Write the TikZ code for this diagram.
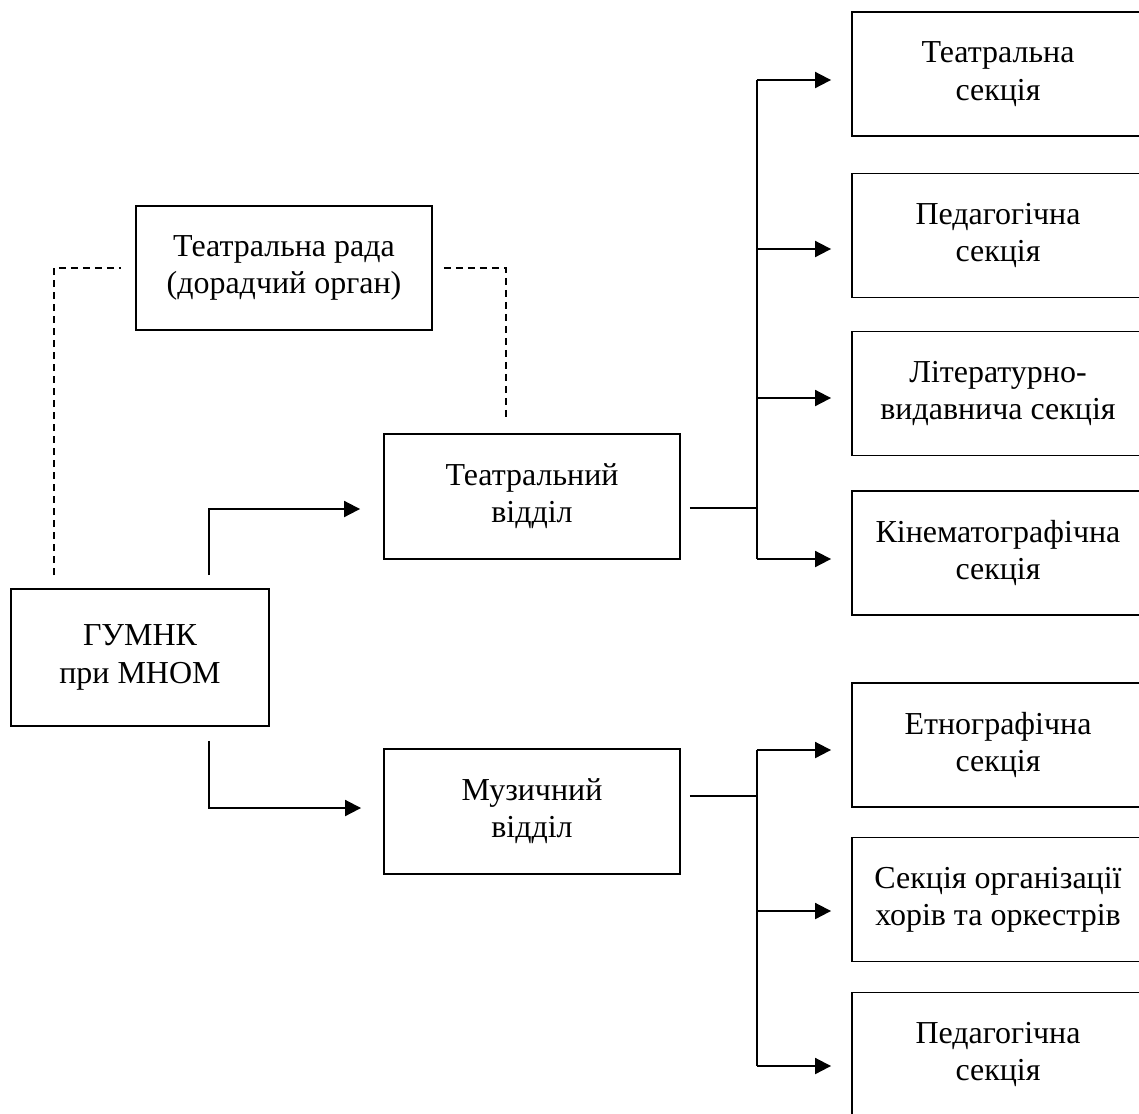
\documentclass[tikz,border=0pt]{standalone}
\usepackage{fontspec}
\setmainfont{Liberation Serif}
\usetikzlibrary{arrows.meta, positioning}
\tikzset{
    box/.style = {draw, rectangle, align=center, line width=1.1pt, inner sep=0pt,
                  font=\fontsize{18.2}{21.2}\selectfont},
    dept/.style = {box, minimum width=5.92cm, minimum height=2.5cm},
    sect/.style = {box, minimum width=5.84cm, minimum height=2.48cm},
    link/.style = {line width=1.1pt},
    arr/.style = {link, -{Triangle[length=3.2mm,width=3.2mm]}},
    advice/.style = {link, dash pattern=on 0.14cm off 0.1cm}
}
\begin{document}
\begin{tikzpicture}[x=0.02cm, y=-0.02cm]
  \useasboundingbox (0,0) rectangle (1139,1113);
  \clip (0,0) rectangle (1139,1113);

  \node[box, minimum width=5.16cm, minimum height=2.74cm] (gumnk) at (140,657.5) {ГУМНК\\при МНОМ};
  \node[box, minimum width=5.92cm, minimum height=2.48cm] (rada) at (284,268) {Театральна рада\\(дорадчий орган)};
  \node[dept] (tv) at (532,496.5) {Театральний\\відділ};
  \node[dept] (mv) at (532,811.5) {Музичний\\відділ};

  \node[sect] (s1) at (998,74)     {Театральна\\секція};
  \node[sect] (s2) at (998,235.5)  {Педагогічна\\секція};
  \node[sect] (s3) at (998,393.5)  {Літературно-\\видавнича секція};
  \node[sect] (s4) at (998,553)    {Кінематографічна\\секція};
  \node[sect] (s5) at (998,745)    {Етнографічна\\секція};
  \node[sect] (s6) at (998,899.5)  {Секція організації\\хорів та оркестрів};
  \node[sect] (s7) at (998,1054.5) {Педагогічна\\секція};

  % advisory council
  \draw[advice] ([xshift=0.88cm,yshift=0.26cm]gumnk.north west) |- ([xshift=-0.28cm]rada.west);
  \draw[advice] ([xshift=0.22cm]rada.east) -| ([xshift=-0.52cm,yshift=0.28cm]tv.north);

  % departments
  \draw[arr] ([xshift=1.38cm,yshift=0.26cm]gumnk.north) |- ([xshift=-0.46cm,yshift=-0.25cm]tv.west);
  \draw[arr] ([xshift=1.38cm,yshift=-0.28cm]gumnk.south) |- ([xshift=-0.44cm,yshift=0.07cm]mv.west);

  % theatre sections
  \coordinate (bt) at ([xshift=1.52cm,yshift=-0.23cm]tv.east);
  \coordinate (e1) at ([xshift=-0.4cm,yshift=-0.12cm]s1.west);
  \coordinate (e2) at ([xshift=-0.4cm,yshift=-0.27cm]s2.west);
  \coordinate (e3) at ([xshift=-0.4cm,yshift=-0.09cm]s3.west);
  \coordinate (e4) at ([xshift=-0.4cm,yshift=-0.12cm]s4.west);
  \draw[link] ([xshift=0.18cm,yshift=-0.23cm]tv.east) -- (bt);
  \draw[link] (bt |- e1) -- (bt |- e4);
  \draw[arr] (bt |- e1) -- (e1);
  \draw[arr] (bt |- e2) -- (e2);
  \draw[arr] (bt |- e3) -- (e3);
  \draw[arr] (bt |- e4) -- (e4);

  % music sections
  \coordinate (bm) at ([xshift=1.52cm,yshift=0.31cm]mv.east);
  \coordinate (e5) at ([xshift=-0.4cm,yshift=-0.1cm]s5.west);
  \coordinate (e6) at ([xshift=-0.4cm,yshift=-0.23cm]s6.west);
  \coordinate (e7) at ([xshift=-0.4cm,yshift=-0.23cm]s7.west);
  \draw[link] ([xshift=0.18cm,yshift=0.31cm]mv.east) -- (bm);
  \draw[link] (bm |- e5) -- (bm |- e7);
  \draw[arr] (bm |- e5) -- (e5);
  \draw[arr] (bm |- e6) -- (e6);
  \draw[arr] (bm |- e7) -- (e7);
\end{tikzpicture}
\end{document}
